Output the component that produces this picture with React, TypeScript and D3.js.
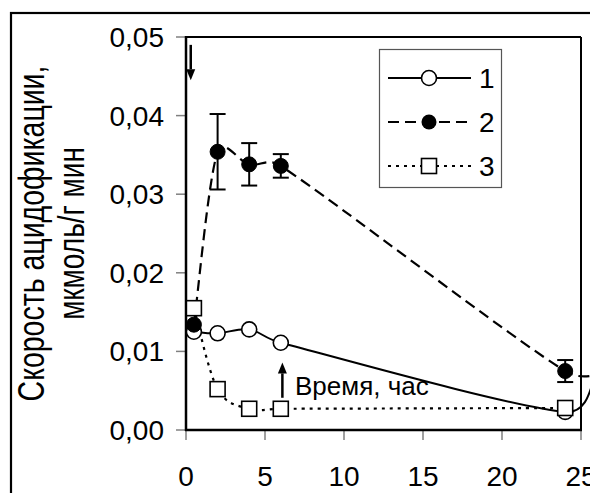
import React from "react";
import * as d3 from "d3";

// ---- data ----
const TIME_1 = [0.5, 2, 4, 6, 24, 26];
const RATE_1 = [0.0125, 0.0123, 0.0128, 0.0111, 0.0023, 0.0075];

const TIME_2 = [0.5, 2, 4, 6, 24, 27];
const RATE_2 = [0.0134, 0.0354, 0.0338, 0.0336, 0.0075, 0.0076];
const ERR_2 = [0, 0.0048, 0.0027, 0.0015, 0.0014, 0];

const TIME_3 = [0.5, 2, 4, 6, 24];
const RATE_3 = [0.0155, 0.0052, 0.0027, 0.0027, 0.0028];

const X_TICKS = [0, 5, 10, 15, 20, 25];
const Y_TICKS = [0, 0.01, 0.02, 0.03, 0.04, 0.05];
const LEGEND_LABELS = ["1", "2", "3"];
const Y_LABEL_1 = "Скорость ацидофикации,";
const Y_LABEL_2 = "мкмоль/г мин";
const TIME_LABEL = "Время, час";

const W = 590;
const H = 493;
const FONT = "'Liberation Sans', Arial, sans-serif";

type P = [number, number];

// Excel-like smoothed line: cubic Bezier with control points at 1/6 of the
// neighbour chord, limited to half of the segment length.
function smoothPath(pts: P[]): string {
  const path = d3.path();
  if (!pts.length) return "";
  path.moveTo(pts[0][0], pts[0][1]);
  const limit = (v: P, max: number): P => {
    const len = Math.hypot(v[0], v[1]);
    if (len > max && len > 0) return [(v[0] * max) / len, (v[1] * max) / len];
    return v;
  };
  for (let i = 0; i < pts.length - 1; i++) {
    const p0 = pts[i - 1] || pts[i];
    const p1 = pts[i];
    const p2 = pts[i + 1];
    const p3 = pts[i + 2] || pts[i + 1];
    const d12 = Math.hypot(p2[0] - p1[0], p2[1] - p1[1]);
    const a = limit([(p2[0] - p0[0]) / 6, (p2[1] - p0[1]) / 6], d12 / 2);
    const b = limit([(p3[0] - p1[0]) / 6, (p3[1] - p1[1]) / 6], d12 / 2);
    path.bezierCurveTo(p1[0] + a[0], p1[1] + a[1], p2[0] - b[0], p2[1] - b[1], p2[0], p2[1]);
  }
  return path.toString();
}

export default function App() {
  const x = d3.scaleLinear().domain([0, 25]).range([186, 581]);
  const y = d3.scaleLinear().domain([0, 0.05]).range([430, 37]);

  const pts1 = TIME_1.map((t, i) => [t, RATE_1[i]] as P);
  const pts2 = TIME_2.map((t, i) => [t, RATE_2[i]] as P);
  const pts3 = TIME_3.map((t, i) => [t, RATE_3[i]] as P);
  const px = (pts: P[]) => pts.map((p) => [x(p[0]), y(p[1])] as P);
  const vis = (t: number) => t <= 25;

  const r = 7.5;
  const sq = 15;

  const arrow = (x0: number, y0: number, y1: number) => {
    const dir = y1 > y0 ? 1 : -1;
    const head = 11;
    return (
      <g>
        <line x1={x0} y1={y0} x2={x0} y2={y1 - dir * head} stroke="#000" strokeWidth={2.5} />
        <path
          d={`M${x0 - 4.5},${y1 - dir * head} L${x0 + 4.5},${y1 - dir * head} L${x0},${y1} Z`}
          fill="#000"
        />
      </g>
    );
  };

  const legendYs = [78, 122, 166];
  const yMid = (y(0) + y(0.05)) / 2;

  return (
    <svg
      width={W}
      height={H}
      style={{ position: "absolute", left: 0, top: 0, background: "#fff" }}
      fontFamily={FONT}
    >
      <rect x={0} y={0} width={W} height={H} fill="#fff" />
      {/* outer frame */}
      <rect x={11} y={13} width={700} height={700} fill="none" stroke="#000" strokeWidth={2.2} />

      {/* ticks */}
      {Y_TICKS.map((t) => (
        <line key={"yt" + t} x1={176} x2={186} y1={y(t)} y2={y(t)} stroke="#808080" strokeWidth={1.5} />
      ))}
      {X_TICKS.map((t) => (
        <line key={"xt" + t} x1={x(t)} x2={x(t)} y1={430} y2={440} stroke="#808080" strokeWidth={1.5} />
      ))}

      {/* plot frame */}
      <line x1={x(0)} x2={x(25)} y1={y(0.05)} y2={y(0.05)} stroke="#000" strokeWidth={2} />
      <line x1={x(25)} x2={x(25)} y1={y(0.05)} y2={y(0)} stroke="#000" strokeWidth={2} />
      <line x1={x(0)} x2={x(0)} y1={y(0.05) - 1} y2={y(0) + 1} stroke="#000" strokeWidth={2.5} />
      <line x1={x(0) - 1} x2={x(25) + 1} y1={y(0)} y2={y(0)} stroke="#000" strokeWidth={2.5} />

      {/* tick labels */}
      {Y_TICKS.map((t) => (
        <text key={"yl" + t} x={164} y={y(t)} dy="0.36em" textAnchor="end" fontSize={28} fill="#000">
          {t.toFixed(2).replace(".", ",")}
        </text>
      ))}
      {X_TICKS.map((t) => (
        <text key={"xl" + t} x={x(t)} y={486} textAnchor="middle" fontSize={28} fill="#000">
          {t}
        </text>
      ))}

      {/* y axis label */}
      <text
        transform={`translate(44, ${yMid}) rotate(-90) scale(1, 1.3)`}
        textAnchor="middle"
        fontSize={28.5}
        fill="#000"
      >
        {Y_LABEL_1}
      </text>
      <text
        transform={`translate(84, ${yMid}) rotate(-90) scale(1, 1.3)`}
        textAnchor="middle"
        fontSize={28}
        fill="#000"
      >
        {Y_LABEL_2}
      </text>

      {/* series lines */}
      <path d={smoothPath(px(pts1))} fill="none" stroke="#000" strokeWidth={2} />
      <path d={smoothPath(px(pts2))} fill="none" stroke="#000" strokeWidth={2.2} strokeDasharray="11,6" />
      <path d={smoothPath(px(pts3))} fill="none" stroke="#000" strokeWidth={2.2} strokeDasharray="3,5" />

      {/* series 1 markers */}
      {pts1.filter((p) => vis(p[0])).map((p, i) => (
        <circle key={"c1" + i} cx={x(p[0])} cy={y(p[1])} r={r} fill="#fff" stroke="#000" strokeWidth={1.6} />
      ))}

      {/* series 2 error bars + markers */}
      {pts2.filter((p) => vis(p[0])).map((p, i) =>
        ERR_2[i] > 0 ? (
          <g key={"e2" + i} stroke="#000" strokeWidth={2}>
            <line x1={x(p[0])} x2={x(p[0])} y1={y(p[1] - ERR_2[i])} y2={y(p[1] + ERR_2[i])} />
            <line x1={x(p[0]) - 8} x2={x(p[0]) + 8} y1={y(p[1] + ERR_2[i])} y2={y(p[1] + ERR_2[i])} />
            <line x1={x(p[0]) - 8} x2={x(p[0]) + 8} y1={y(p[1] - ERR_2[i])} y2={y(p[1] - ERR_2[i])} />
          </g>
        ) : null
      )}
      {pts2.filter((p) => vis(p[0])).map((p, i) => (
        <circle key={"c2" + i} cx={x(p[0])} cy={y(p[1])} r={r} fill="#000" stroke="#000" strokeWidth={1} />
      ))}

      {/* series 3 markers */}
      {pts3.map((p, i) => (
        <rect
          key={"s3" + i}
          x={x(p[0]) - sq / 2}
          y={y(p[1]) - sq / 2}
          width={sq}
          height={sq}
          fill="#fff"
          stroke="#000"
          strokeWidth={1.6}
        />
      ))}

      {/* annotations */}
      {arrow(x(0.3), y(0.049), y(0.0445))}
      {arrow(x(6.1), y(0.0041), y(0.0086))}
      <text x={x(6.9)} y={y(0.0045)} fontSize={26} fill="#000">
        {TIME_LABEL}
      </text>

      {/* legend */}
      <rect x={379.5} y={49.5} width={122} height={138} fill="#fff" stroke="#555" strokeWidth={1.2} />
      {LEGEND_LABELS.map((lab, i) => {
        const ly = legendYs[i];
        const dash = i === 0 ? undefined : i === 1 ? "11,6" : "3,5";
        return (
          <g key={"lg" + i}>
            <line x1={388} x2={471} y1={ly} y2={ly} stroke="#000" strokeWidth={2} strokeDasharray={dash} />
            {i === 0 && <circle cx={429} cy={ly} r={r} fill="#fff" stroke="#000" strokeWidth={1.6} />}
            {i === 1 && <circle cx={429} cy={ly} r={r} fill="#000" />}
            {i === 2 && (
              <rect x={429 - sq / 2} y={ly - sq / 2} width={sq} height={sq} fill="#fff" stroke="#000" strokeWidth={1.6} />
            )}
            <text x={479} y={ly} dy="0.36em" fontSize={28} fill="#000">
              {lab}
            </text>
          </g>
        );
      })}
    </svg>
  );
}
